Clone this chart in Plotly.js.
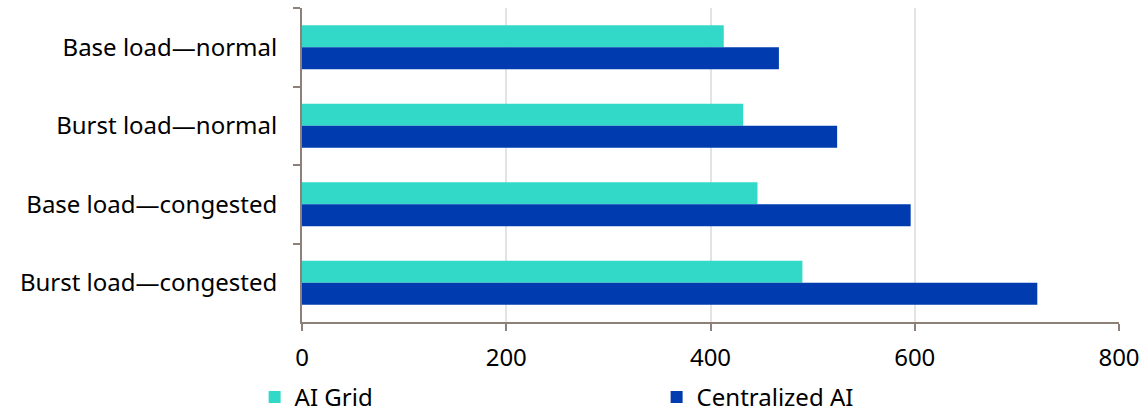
<!DOCTYPE html>
<html>
<head>
<meta charset="utf-8">
<script src="https://cdn.plot.ly/plotly-3.0.1.min.js"></script>
<style>html,body{margin:0;padding:0;background:#fff;}#chart{width:1142px;height:415px;}</style>
</head>
<body>
<div id="chart"></div>
<script>
const categories = ["Base load—normal", "Burst load—normal", "Base load—congested", "Burst load—congested"];
const aiGrid = [413, 432, 446, 490];
const centralizedAI = [467, 524, 596, 720];
const seriesNames = ["AI Grid", "Centralized AI"];
const xTicks = [0, 200, 400, 600, 800];

const font = {family: "Noto Sans, sans-serif", size: 24, color: "#000"};
const axisColor = "#8c8078";

const data = [
  {type: "bar", orientation: "h", name: seriesNames[0], y: categories, x: aiGrid,
   marker: {color: "#33d9c8"}},
  {type: "bar", orientation: "h", name: seriesNames[1], y: categories, x: centralizedAI,
   marker: {color: "#003cb0"}}
];

const layout = {
  width: 1142, height: 415,
  margin: {l: 302, r: 23, t: 8, b: 93, autoexpand: false},
  paper_bgcolor: "#fff", plot_bgcolor: "#fff",
  font: font,
  barmode: "group", bargap: 0.44, bargroupgap: 0,
  showlegend: true,
  legend: {orientation: "h", x: -0.058, xanchor: "left",
           y: -0.24, yanchor: "middle",
           bgcolor: "rgba(0,0,0,0)",
           entrywidth: 357, entrywidthmode: "pixels", traceorder: "normal",
           font: {family: "Noto Sans, sans-serif", size: 24, color: "#000"}, itemwidth: 30},
  xaxis: {range: [0, 800], tickvals: xTicks, ticktext: xTicks.map(String),
          showgrid: true, gridcolor: "#e3e3e3", gridwidth: 2,
          showline: true, linecolor: axisColor, linewidth: 2,
          ticks: "outside", ticklen: 7, tickcolor: axisColor, tickwidth: 2,
          ticklabelstandoff: 6,
          zeroline: false, tickfont: font, fixedrange: true, automargin: false},
  yaxis: {type: "category", autorange: "reversed", categoryorder: "array", categoryarray: categories,
          showline: true, linecolor: axisColor, linewidth: 2,
          ticks: "outside", tickson: "boundaries", ticklen: 7, tickcolor: axisColor, tickwidth: 2,
          showgrid: false, zeroline: false, tickfont: font, ticklabelstandoff: 18,
          fixedrange: true, automargin: false}
};

Plotly.newPlot("chart", data, layout, {displayModeBar: false, staticPlot: true});
</script>
</body>
</html>
